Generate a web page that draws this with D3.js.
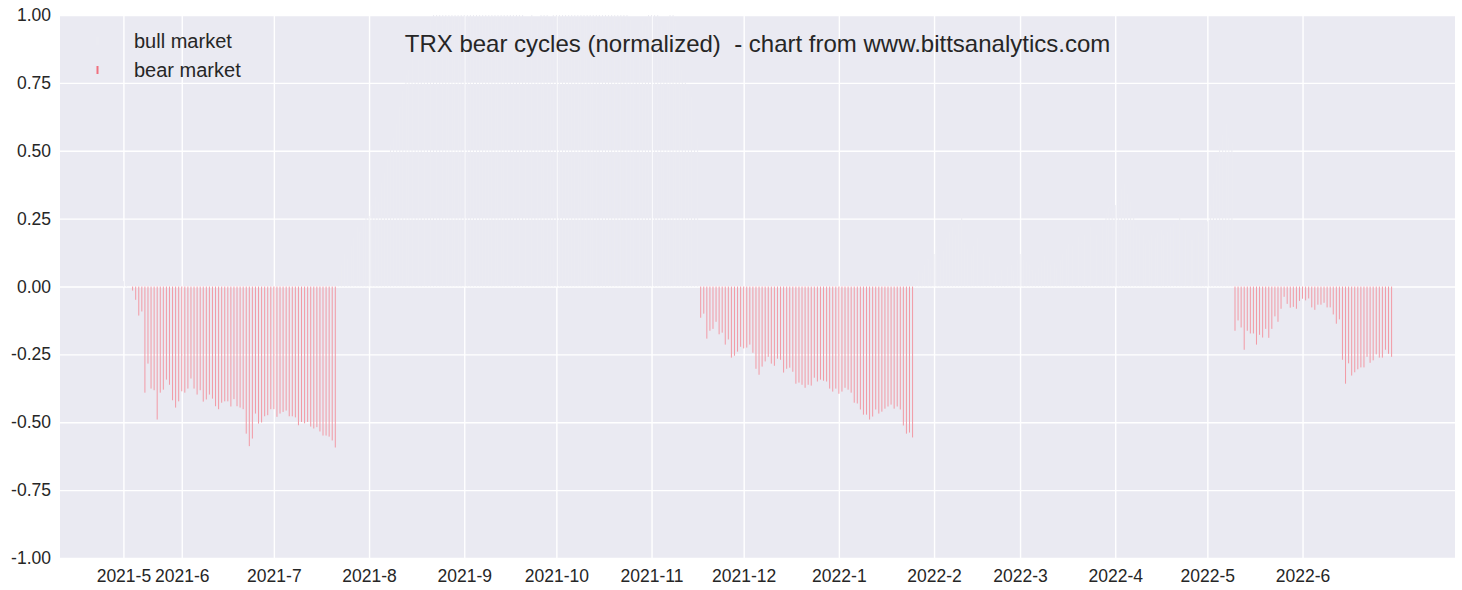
<!DOCTYPE html>
<html>
<head>
<meta charset="utf-8">
<script src="https://cdn.jsdelivr.net/npm/d3@7/dist/d3.min.js"></script>
<style>
  html, body { margin: 0; padding: 0; background: #ffffff; }
  svg { display: block; font-family: "Liberation Sans", Arial, sans-serif; }
</style>
</head>
<body>
<svg id="chart" width="1462" height="590"></svg>
<script>
// ---------------- DATA ----------------
const firstDate = "2021-05-13";
const lastDate  = "2022-06-30";

const tickDates  = ["2021-05-13","2021-06-01","2021-07-01","2021-08-01","2021-09-01","2021-10-01","2021-11-01",
                    "2021-12-01","2022-01-01","2022-02-01","2022-03-01","2022-04-01","2022-05-01","2022-06-01"];
const tickLabels = ["2021-5","2021-6","2021-7","2021-8","2021-9","2021-10","2021-11",
                    "2021-12","2022-1","2022-2","2022-3","2022-4","2022-5","2022-6"];
const yTicks = [-1.00,-0.75,-0.50,-0.25,0.00,0.25,0.50,0.75,1.00];

// bear market cycles (drawdown, normalized)
const bear1Start = "2021-05-16";
const bear1 = [-0.015,-0.049,-0.107,-0.092,-0.391,-0.284,-0.376,-0.382,-0.490,-0.391,
               -0.380,-0.343,-0.362,-0.419,-0.446,-0.423,-0.386,-0.391,-0.376,-0.339,
               -0.376,-0.398,-0.382,-0.424,-0.416,-0.398,-0.413,-0.441,-0.452,-0.428,
               -0.423,-0.423,-0.442,-0.415,-0.441,-0.446,-0.452,-0.542,-0.588,-0.560,
               -0.468,-0.505,-0.501,-0.478,-0.474,-0.452,-0.452,-0.480,-0.468,-0.462,
               -0.457,-0.478,-0.478,-0.482,-0.511,-0.499,-0.504,-0.499,-0.516,-0.523,
               -0.518,-0.534,-0.549,-0.549,-0.553,-0.567,-0.593];
const bear2Start = "2021-11-17";
const bear2 = [-0.115,-0.100,-0.192,-0.163,-0.156,-0.130,-0.176,-0.170,-0.214,-0.195,
               -0.262,-0.255,-0.240,-0.222,-0.228,-0.225,-0.214,-0.244,-0.303,-0.325,
               -0.295,-0.276,-0.259,-0.284,-0.292,-0.266,-0.270,-0.317,-0.303,-0.299,
               -0.314,-0.358,-0.354,-0.362,-0.373,-0.362,-0.365,-0.336,-0.350,-0.343,
               -0.347,-0.350,-0.376,-0.387,-0.376,-0.395,-0.387,-0.373,-0.380,-0.391,
               -0.428,-0.431,-0.453,-0.472,-0.472,-0.490,-0.479,-0.453,-0.468,-0.461,
               -0.450,-0.442,-0.435,-0.450,-0.442,-0.453,-0.512,-0.542,-0.538,-0.556];
const bear3Start = "2022-05-10";
const bear3 = [-0.163,-0.125,-0.151,-0.233,-0.163,-0.173,-0.173,-0.214,-0.178,-0.188,
               -0.156,-0.189,-0.156,-0.110,-0.130,-0.082,-0.038,-0.064,-0.078,-0.075,
               -0.082,-0.053,-0.045,-0.051,-0.044,-0.077,-0.086,-0.067,-0.067,-0.060,
               -0.077,-0.077,-0.103,-0.137,-0.121,-0.270,-0.358,-0.283,-0.328,-0.316,
               -0.305,-0.298,-0.298,-0.259,-0.281,-0.272,-0.250,-0.262,-0.262,-0.233,
               -0.248,-0.259];

// bull market cycles (gain, normalized) - drawn almost invisible in the reference
const bull0Start = "2021-05-13";
const bull0 = [0.02,0.01,0.00];
const bull1Start = "2021-07-22";
const bull1 = [0.04,0.08,0.12,0.10,0.15,0.18,0.22,0.20,0.24,0.27,
               0.26,0.30,0.33,0.31,0.38,0.42,0.47,0.52,0.55,0.60,
               0.66,0.72,0.78,0.80,0.85,0.88,0.84,0.90,0.95,0.92,
               0.98,1.05,1.02,1.10,1.08,1.04,1.12,1.15,1.10,1.06,1.08,
               1.12,1.18,1.25,1.30,1.28,1.35,1.10,1.05,1.12,1.15,
               1.20,1.18,1.10,1.14,1.22,1.20,1.16,1.12,1.08,1.00,
               0.92,0.98,1.02,0.95,0.98,1.00,1.04,1.02,0.96,1.00,
               1.05,1.10,1.12,1.08,1.10,1.06,1.12,1.15,1.18,1.14,
               1.10,1.06,1.04,1.08,1.10,1.06,1.04,1.08,1.12,1.10,
               1.06,1.02,1.04,1.00,0.98,0.92,0.90,0.94,0.98,0.96,1.00,
               1.02,1.04,1.00,0.96,0.92,0.98,1.02,1.05,0.98,0.85,0.80,0.75,0.72,0.70,0.62,0.55];
const bull2Start = "2022-01-26";
const bull2 = [0.03,0.06,0.05,0.08,0.10,0.07,
               0.12,0.15,0.10,0.13,0.18,0.20,0.22,0.19,0.23,0.27,
               0.16,0.14,0.12,0.15,0.18,0.17,0.12,0.10,0.11,0.09,
               0.05,0.03,0.06,0.02,0.07,0.08,0.06,0.10,
               0.12,0.10,0.09,0.08,0.06,0.05,0.07,0.09,0.11,0.10,
               0.08,0.09,0.07,0.10,0.12,0.14,0.16,0.15,0.17,0.18,
               0.16,0.19,0.20,0.22,0.21,0.19,0.23,0.24,0.27,0.29,0.28,
               0.30,0.33,0.36,0.38,0.34,0.31,0.27,0.22,0.21,0.19,
               0.16,0.17,0.19,0.18,0.20,0.21,0.19,0.20,0.22,0.23,
               0.24,0.27,0.23,0.21,0.18,0.17,0.19,0.20,0.22,0.23,
               0.24,0.30,0.38,0.46,0.52,0.56,0.60,0.55,0.53];

const titleText = "TRX bear cycles (normalized)  - chart from www.bittsanalytics.com";
const legendLabels = ["bull market", "bear market"];

// ---------------- BUILD ----------------
const parse = d3.utcParse("%Y-%m-%d");
const DAY = 86400000;
function expand(start, values) {
  const s = parse(start);
  return values.map((v, i) => ({ date: new Date(s.getTime() + i * DAY), value: v }));
}
const bearData = [].concat(expand(bear1Start, bear1), expand(bear2Start, bear2), expand(bear3Start, bear3));
const bullData = [].concat(expand(bull0Start, bull0), expand(bull1Start, bull1), expand(bull2Start, bull2));

const plot = { left: 60, right: 1455, top: 15, bottom: 558 };

const d0 = parse(firstDate), d1 = parse(lastDate);
const pad = (d1 - d0) * 0.05;
const x = d3.scaleUtc().domain([new Date(d0.getTime() - pad), new Date(d1.getTime() + pad)])
  .range([plot.left, plot.right]);
const y = d3.scaleLinear().domain([-1, 1]).range([plot.bottom, plot.top]);

const svg = d3.select("#chart");

svg.append("defs").append("clipPath").attr("id", "clip")
  .append("rect").attr("x", plot.left).attr("y", plot.top)
  .attr("width", plot.right - plot.left).attr("height", plot.bottom - plot.top);

svg.append("rect").attr("x", plot.left).attr("y", plot.top)
  .attr("width", plot.right - plot.left).attr("height", plot.bottom - plot.top)
  .attr("fill", "#eaeaf2");

const tickDateObjs = tickDates.map(parse);
const xAxis = d3.axisBottom(x).tickValues(tickDateObjs)
  .tickFormat((d, i) => tickLabels[i]).tickSize(-(plot.bottom - plot.top)).tickPadding(12);
const yAxis = d3.axisLeft(y).tickValues(yTicks)
  .tickFormat(d => d3.format(".2f")(d).replace("\u2212", "-")).tickSize(-(plot.right - plot.left)).tickPadding(9);

const gx = svg.append("g").attr("transform", `translate(0,${plot.bottom})`).call(xAxis);
const gy = svg.append("g").attr("transform", `translate(${plot.left},0)`).call(yAxis);
[gx, gy].forEach(g => {
  g.select(".domain").remove();
  g.selectAll(".tick line").attr("stroke", "#ffffff").attr("stroke-width", 1.4);
  g.selectAll(".tick text").attr("fill", "#262626").attr("font-size", 17.5)
    .attr("font-family", "'Liberation Sans', Arial, sans-serif");
});

// bars
const bars = svg.append("g").attr("clip-path", "url(#clip)");
bars.selectAll("rect.bull").data(bullData).join("rect")
  .attr("class", "bull")
  .attr("x", d => x(d.date) - 0.5).attr("width", 1)
  .attr("y", d => y(Math.max(0, d.value))).attr("height", d => Math.abs(y(d.value) - y(0)))
  .attr("fill", "#ebebf2");
bars.selectAll("rect.bear").data(bearData).join("rect")
  .attr("class", "bear")
  .attr("x", d => x(d.date) - 0.5).attr("width", 1)
  .attr("y", y(0)).attr("height", d => y(d.value) - y(0))
  .attr("fill", "#f29aa5");

// title
svg.append("text").attr("x", (plot.left + plot.right) / 2).attr("y", 52)
  .attr("text-anchor", "middle").attr("font-size", 24).attr("fill", "#262626")
  .style("white-space", "pre")
  .text(titleText);

// legend
const leg = svg.append("g");
leg.append("rect").attr("x", 96.5).attr("y", 37).attr("width", 2).attr("height", 8).attr("fill", "#ebebf2");
leg.append("rect").attr("x", 96.5).attr("y", 66).attr("width", 2).attr("height", 8).attr("fill", "#f0707f");
leg.selectAll("text.lab").data(legendLabels).join("text")
  .attr("class", "lab")
  .attr("x", 134).attr("y", (d, i) => 48 + i * 29)
  .attr("font-size", 20).attr("fill", "#262626").text(d => d);
</script>
</body>
</html>
